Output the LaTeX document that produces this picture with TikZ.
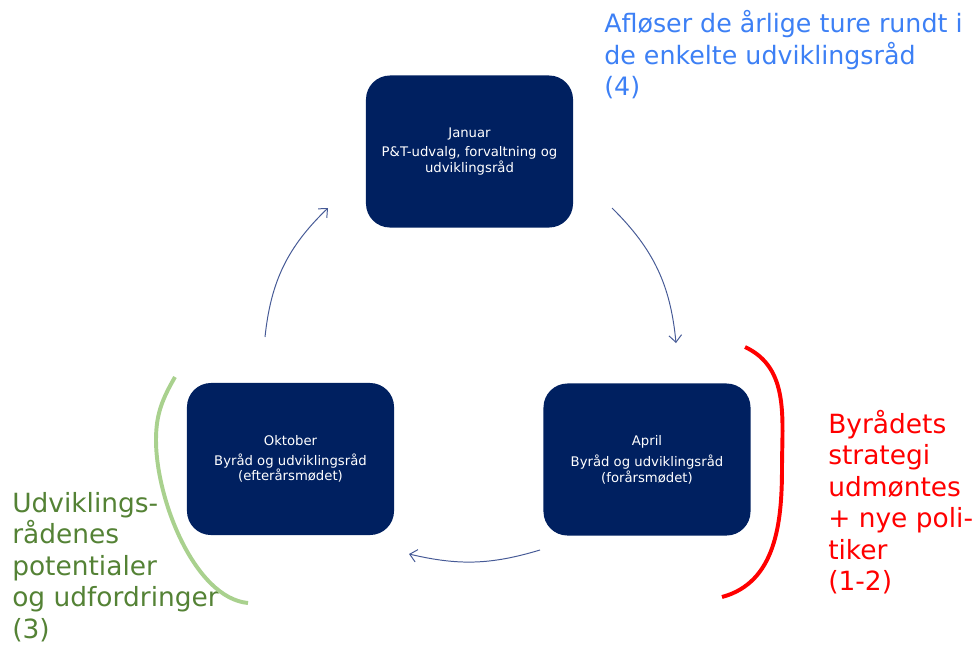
\documentclass[tikz,border=0pt]{standalone}
\usepackage{fontspec}
\setmainfont{DejaVu Sans}
\usepackage{tikz}
\usetikzlibrary{arrows.meta}

\definecolor{navy}{RGB}{0,32,96}
\definecolor{arrowblue}{RGB}{70,90,150}
\definecolor{textblue}{RGB}{61,128,245}
\definecolor{textgreen}{RGB}{84,130,53}
\definecolor{lightgreen}{RGB}{169,209,142}

\begin{document}
\begin{tikzpicture}
  [x=0.025cm,y=-0.025cm,
   month/.style={shape=rectangle,rounded corners=0.6cm,fill=navy,text=white,
     minimum width=5.175cm,minimum height=3.8cm,align=center,
     font=\fontsize{9.4}{10}\selectfont},
   note/.style={anchor=north west,inner sep=0pt,align=left,
     font=\fontsize{18.8}{22.4}\selectfont},
   cycle/.style={draw=arrowblue,line width=0.7pt,
     -{Straight Barb[length=5pt,width=9pt]}},
   brace/.style={line width=2.8pt}]
\useasboundingbox (0,0) rectangle (976,653);
\node[month] (jan) at (469.5,151.5) {Januar\\[4pt]P\&T-udvalg, forvaltning og\\udviklingsråd};
\node[month] (apr) at (647,459.5) {April\\[4pt]Byråd og udviklingsråd\\(forårsmødet)};
\node[month] (okt) at (290.5,459) {Oktober\\[4pt]Byråd og udviklingsråd\\(efterårsmødet)};
\coordinate (jan1) at (612,208) ;
\coordinate (apr0) at (676,343) ;
\coordinate (apr1) at (540,550) ;
\coordinate (okt0) at (409,554) ;
\coordinate (okt1) at (265,337) ;
\coordinate (jan0) at (328,208) ;
\foreach \a/\b/\c in {jan1/apr0/20,apr1/okt0/15,okt1/jan0/20}
  \draw[cycle] (\a) to[bend left=\c] (\b);
\node[note,text=textblue,font=\fontsize{18}{22.4}\selectfont] (afl) at (604,10)
  {Afløser de årlige ture rundt i\\de enkelte udviklingsråd\\(4)};
\node[note,text=red] (byr) at (828,410) {Byrådets\\strategi\\udmøntes\\+ nye poli-\\tiker\\(1-2)};
\node[note,text=textgreen] (udv) at (12,492) {Udviklings-\\rådenes\\potentialer\\og udfordringer\\(3)};
\draw[brace,red] (745,347) to[out=-25,in=90] (782,468) to[out=-90,in=15] (722,597);
\draw[brace,lightgreen] (175,377) to[out=240,in=90] (156,440)
  .. controls (156,500) and (195,598) .. (248,603);
\end{tikzpicture}
\end{document}
